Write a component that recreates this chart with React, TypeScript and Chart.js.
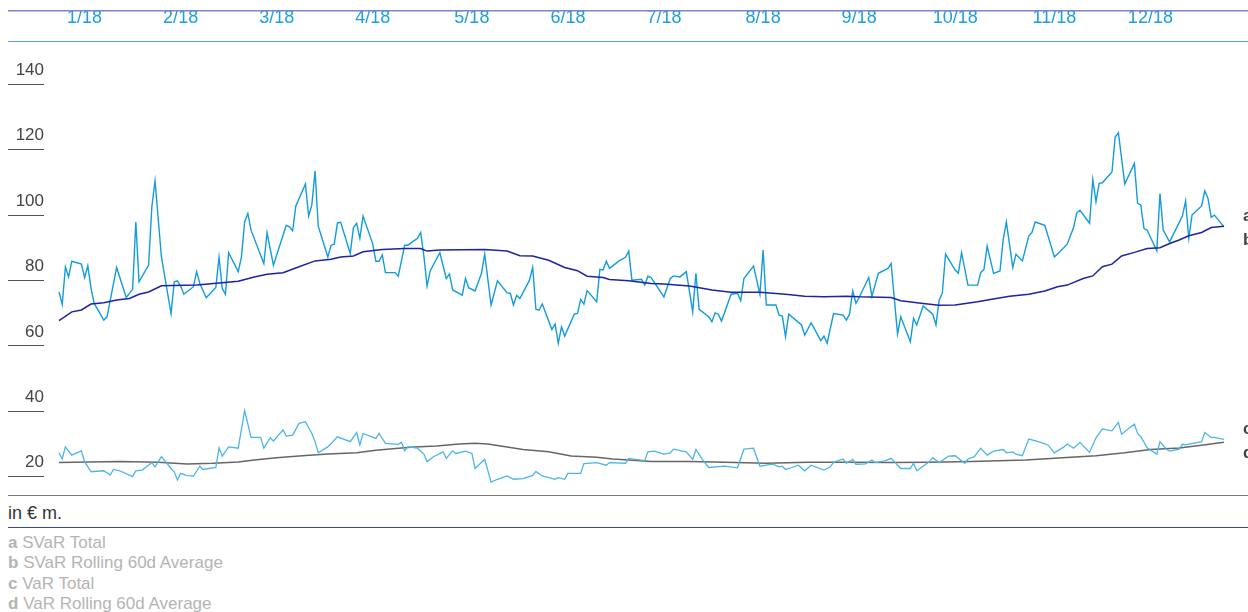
import React, { useEffect, useRef } from "react";
import { Chart, registerables } from "chart.js";

Chart.register(...registerables);

const FONT = '"Liberation Sans", Arial, Helvetica, sans-serif';

// x = calendar day of 2018 (0 = 1 Jan), y = € m.
const monthLabels = ["1/18", "2/18", "3/18", "4/18", "5/18", "6/18", "7/18", "8/18", "9/18", "10/18", "11/18", "12/18"];
const monthTickDays = [8, 38, 68, 98, 129, 159, 189, 220, 250, 280, 311, 341];
const yTickValues = [20, 40, 60, 80, 100, 120, 140];
const seriesLetters = ["a", "b", "c", "d"];
const legendTexts = ["SVaR Total", "SVaR Rolling 60d Average", "VaR Total", "VaR Rolling 60d Average"];

const svarTotal: [number, number][] = [
  [0, 76.5], [1, 72.7], [2, 84.2], [3, 81.1], [4, 85.9], [7, 85.0], [8, 80.9], [9, 84.5], [10, 77.6], [11, 73.0],
  [14, 67.9], [15, 68.9], [18, 84.0], [21, 74.8], [23, 77.3], [24, 97.9], [25, 79.6], [28, 84.7], [29, 102.5], [30, 110.5],
  [32, 87.2], [35, 69.9], [36, 79.6], [37, 79.9], [38, 78.3], [39, 75.8], [42, 78.1], [43, 82.7], [44, 79.1], [46, 74.7],
  [49, 77.9], [50, 87.1], [51, 77.6], [52, 75.8], [53, 88.5], [56, 82.7], [57, 87.2], [58, 97.9], [59, 100.5], [60, 95.4],
  [64, 85.2], [65, 94.6], [67, 84.7], [71, 96.9], [72, 96.4], [73, 95.2], [74, 102.8], [77, 109.5], [78, 99.7], [79, 103.1],
  [80, 113.5], [81, 96.6], [84, 87.2], [85, 90.8], [86, 91.1], [87, 97.6], [88, 97.8], [91, 88.3], [92, 96.2], [93, 97.5],
  [94, 92.9], [95, 99.7], [98, 91.3], [99, 85.9], [100, 85.9], [101, 87.8], [102, 82.4], [105, 82.4], [106, 81.3], [108, 90.8],
  [109, 90.8], [112, 92.9], [113, 94.7], [114, 87.5], [115, 78.3], [116, 83.0], [119, 88.5], [121, 80.6], [122, 82.0], [123, 77.1],
  [126, 75.5], [127, 80.6], [128, 77.8], [130, 76.8], [132, 82.2], [133, 88.1], [135, 72.5], [137, 79.9], [140, 76.2], [141, 76.1],
  [142, 72.5], [143, 75.5], [144, 74.5], [147, 80.1], [148, 84.0], [149, 71.2], [150, 70.9], [151, 72.8], [154, 65.0], [155, 66.7],
  [156, 60.8], [157, 65.8], [158, 63.0], [161, 69.7], [162, 69.9], [163, 74.2], [164, 72.8], [165, 76.9], [168, 73.5], [169, 83.4],
  [170, 83.2], [171, 85.9], [172, 83.7], [175, 86.0], [177, 87.1], [178, 89.0], [179, 80.1], [182, 80.4], [183, 78.6], [184, 81.3],
  [185, 80.9], [189, 75.0], [191, 80.6], [192, 81.4], [194, 81.1], [196, 82.7], [198, 70.4], [199, 82.2], [200, 71.2], [203, 68.9],
  [204, 67.4], [205, 70.1], [206, 69.7], [207, 67.6], [210, 75.8], [212, 76.1], [213, 73.8], [214, 80.6], [217, 84.4], [219, 75.8],
  [220, 89.3], [221, 72.5], [224, 72.5], [225, 69.4], [226, 69.1], [227, 62.8], [228, 69.7], [232, 66.4], [233, 63.3], [235, 67.1],
  [238, 61.6], [239, 63.0], [240, 60.8], [242, 69.9], [245, 69.4], [246, 67.9], [247, 69.7], [248, 76.8], [249, 73.0], [250, 74.8],
  [253, 80.9], [254, 75.2], [256, 82.2], [259, 83.7], [260, 85.2], [262, 63.6], [263, 68.9], [266, 61.3], [267, 68.4], [268, 66.4],
  [270, 72.2], [273, 69.7], [274, 66.4], [275, 74.0], [276, 76.2], [277, 88.1], [280, 83.2], [281, 82.2], [282, 88.5], [284, 78.6],
  [287, 78.6], [288, 82.4], [289, 83.4], [290, 90.5], [292, 82.2], [294, 82.9], [295, 92.4], [296, 97.9], [298, 84.0], [299, 88.0],
  [301, 86.0], [303, 93.6], [304, 94.7], [305, 97.9], [308, 96.9], [310, 90.5], [311, 87.2], [313, 89.1], [315, 91.1], [317, 96.2],
  [318, 100.7], [319, 101.5], [322, 97.5], [323, 110.9], [324, 104.1], [325, 109.7], [326, 109.9], [329, 113.2], [330, 123.9], [331, 125.2],
  [333, 109.5], [336, 115.8], [337, 103.6], [338, 103.1], [339, 95.9], [340, 95.4], [343, 89.1], [344, 106.6], [345, 95.4], [347, 91.8],
  [351, 99.7], [352, 104.3], [353, 92.9], [354, 100.0], [357, 102.8], [358, 107.4], [359, 105.1], [360, 99.3], [361, 100.0], [364, 96.4],
];

const svarAvg: [number, number][] = [
  [0, 67.7], [4, 70.4], [7, 71.0], [10, 72.8], [14, 73.2], [18, 74.0], [22, 74.5], [25, 75.8], [28, 76.5], [32, 78.4],
  [43, 78.6], [51, 79.3], [56, 79.8], [61, 81.1], [65, 81.9], [70, 82.4], [75, 84.2], [80, 86.0], [85, 86.5], [88, 87.2],
  [92, 87.5], [95, 88.8], [101, 89.5], [108, 89.8], [113, 89.8], [115, 89.0], [119, 89.3], [133, 89.5], [140, 89.0], [144, 87.6],
  [148, 87.5], [153, 86.2], [158, 84.0], [162, 83.0], [165, 81.3], [170, 80.9], [172, 80.3], [178, 79.9], [185, 79.1], [189, 78.9],
  [197, 78.3], [204, 77.1], [210, 76.4], [219, 76.4], [227, 75.8], [233, 75.2], [239, 75.0], [246, 75.2], [250, 75.0], [260, 74.8],
  [263, 73.8], [270, 73.0], [275, 72.4], [280, 72.5], [287, 73.5], [291, 74.2], [297, 75.2], [303, 75.8], [308, 76.8], [312, 78.1],
  [315, 78.6], [320, 80.6], [323, 81.4], [326, 84.2], [329, 85.0], [332, 87.5], [336, 88.6], [340, 89.8], [344, 90.0], [347, 91.3],
  [350, 92.4], [353, 93.7], [357, 94.7], [360, 96.2], [364, 96.6],
];

const varTotal: [number, number][] = [
  [0, 27.3], [1, 25.4], [2, 29.1], [4, 26.6], [7, 27.9], [8, 24.6], [10, 21.5], [14, 21.8], [16, 20.5], [17, 22.2],
  [19, 21.8], [23, 20.0], [24, 21.8], [26, 22.0], [29, 24.3], [30, 23.0], [32, 26.1], [35, 22.5], [36, 21.5], [37, 19.0],
  [38, 21.0], [40, 20.3], [42, 20.2], [44, 23.2], [45, 22.2], [49, 22.8], [50, 28.8], [51, 26.3], [53, 29.1], [56, 28.7],
  [58, 40.2], [60, 32.0], [63, 32.0], [64, 28.7], [66, 31.9], [67, 30.9], [70, 34.3], [71, 32.4], [73, 32.7], [75, 36.3],
  [77, 36.8], [79, 33.2], [80, 30.7], [81, 27.3], [84, 29.1], [87, 32.2], [91, 30.7], [93, 33.5], [94, 29.7], [95, 33.2],
  [99, 31.7], [100, 33.2], [102, 30.2], [106, 29.9], [107, 30.5], [108, 27.9], [109, 29.1], [112, 28.7], [114, 26.9], [115, 24.6],
  [117, 26.1], [120, 27.6], [121, 25.6], [123, 27.9], [124, 27.1], [127, 27.8], [129, 27.1], [130, 22.5], [133, 25.3], [135, 18.3],
  [137, 19.2], [140, 20.2], [142, 19.2], [145, 19.4], [148, 20.4], [149, 21.6], [151, 20.2], [155, 19.2], [156, 19.7], [158, 19.2],
  [159, 21.0], [163, 21.0], [164, 24.0], [168, 24.3], [171, 23.5], [172, 24.3], [177, 24.1], [178, 25.6], [183, 24.9], [184, 27.6],
  [186, 27.8], [189, 26.9], [191, 27.3], [192, 28.4], [196, 27.6], [198, 25.3], [199, 28.3], [201, 25.3], [203, 22.8], [208, 23.2],
  [212, 22.7], [214, 28.4], [217, 28.7], [219, 23.2], [221, 23.5], [223, 23.8], [225, 23.0], [226, 23.2], [227, 22.2], [229, 22.8],
  [231, 23.5], [233, 21.8], [235, 23.5], [239, 22.0], [241, 23.0], [242, 24.4], [245, 25.4], [246, 24.1], [248, 25.3], [249, 23.8],
  [252, 23.9], [254, 25.1], [255, 24.3], [258, 24.8], [260, 25.6], [263, 22.5], [266, 22.5], [267, 24.1], [268, 21.8], [272, 24.6],
  [273, 25.8], [275, 24.3], [278, 26.3], [280, 26.4], [283, 24.1], [284, 25.4], [286, 26.1], [288, 28.7], [290, 26.6], [292, 27.8],
  [295, 28.3], [296, 27.3], [298, 27.6], [299, 26.9], [301, 26.4], [303, 31.5], [306, 30.7], [309, 29.7], [311, 27.3], [314, 29.1],
  [315, 30.0], [317, 28.7], [319, 30.5], [322, 27.4], [324, 31.9], [326, 34.6], [329, 34.0], [331, 36.6], [332, 33.0], [336, 36.1],
  [337, 33.2], [338, 32.2], [340, 28.8], [343, 26.9], [344, 30.7], [346, 28.4], [347, 27.8], [350, 28.4], [351, 29.9], [352, 29.7],
  [357, 30.7], [358, 33.5], [360, 32.0], [361, 32.0], [364, 31.4],
];

const varAvg: [number, number][] = [
  [0, 24.3], [19, 24.6], [31, 24.4], [40, 23.9], [48, 24.1], [56, 24.5], [61, 25.1], [68, 25.8], [76, 26.4], [84, 26.9],
  [93, 27.3], [99, 28.1], [106, 28.7], [111, 29.1], [118, 29.4], [125, 30.0], [130, 30.2], [134, 30.0], [138, 29.4], [145, 28.3],
  [153, 27.6], [160, 26.3], [168, 25.9], [173, 25.4], [178, 25.1], [185, 24.6], [197, 24.6], [208, 24.4], [221, 24.1], [234, 24.4],
  [247, 24.4], [260, 24.3], [272, 24.4], [285, 24.6], [302, 25.1], [311, 25.6], [324, 26.4], [333, 27.3], [341, 28.3], [350, 28.8],
  [357, 29.6], [364, 30.5],
];

const X_MIN = -4.69;
const X_MAX = 364;
const Y_MIN = 15;
const Y_MAX = 145;

const toXY = (arr: [number, number][]) => arr.map(([x, y]) => ({ x, y }));

const decorPlugin = {
  id: "decor",
  afterDraw(chart: any) {
    const ctx = chart.ctx as CanvasRenderingContext2D;
    const w = chart.width;
    ctx.save();
    const rule = (y: number, color: string, lw: number) => {
      ctx.beginPath();
      ctx.strokeStyle = color;
      ctx.lineWidth = lw;
      ctx.moveTo(0, y);
      ctx.lineTo(w, y);
      ctx.stroke();
    };
    rule(2.7, "#7c84cf", 1.5);
    rule(33.5, "#4ea8e0", 1.2);
    rule(487.5, "#7a7a7a", 1);
    ctx.font = `bold 17px ${FONT}`;
    ctx.fillStyle = "#444444";
    ctx.textBaseline = "middle";
    ctx.textAlign = "left";
    const letterY = [208, 232, 421, 445];
    seriesLetters.forEach((l, i) => ctx.fillText(l, 1235, letterY[i]));
    ctx.restore();
  },
};

export default function App() {
  const ref = useRef<HTMLCanvasElement>(null);

  useEffect(() => {
    document.documentElement.style.overflow = "hidden";
    const line = (data: [number, number][], color: string, width: number, order: number) => ({
      data: toXY(data),
      borderColor: color,
      backgroundColor: color,
      borderWidth: width,
      pointRadius: 0,
      tension: 0,
      fill: false,
      order,
    });
    const chart = new Chart(ref.current as HTMLCanvasElement, {
      type: "line",
      data: {
        datasets: [
          { label: "SVaR Total", ...line(svarTotal, "#129cdb", 1.4, 2) },
          { label: "SVaR Rolling 60d Average", ...line(svarAvg, "#1c24a4", 1.5, 1) },
          { label: "VaR Total", ...line(varTotal, "#4cb5e8", 1.3, 3) },
          { label: "VaR Rolling 60d Average", ...line(varAvg, "#666666", 1.5, 4) },
        ],
      },
      options: {
        animation: false,
        responsive: false,
        devicePixelRatio: 1,
        layout: { padding: { left: 0, right: 24, top: 0, bottom: 10 } },
        plugins: { legend: { display: false }, tooltip: { enabled: false } },
        scales: {
          x: { type: "linear", min: X_MIN, max: X_MAX, display: false },
          x2: {
            type: "linear",
            position: "top",
            min: X_MIN,
            max: X_MAX,
            afterFit: (s: any) => {
              s.height = 60;
            },
            afterBuildTicks: (s: any) => {
              s.ticks = monthTickDays.map((v) => ({ value: v }));
            },
            grid: { display: false },
            border: { display: false },
            ticks: {
              color: "#1b9fe0",
              font: { family: FONT, size: 18 },
              padding: 31,
              autoSkip: false,
              maxRotation: 0,
              callback: (_v: any, i: number) => monthLabels[i],
            },
          },
          y: {
            type: "linear",
            min: Y_MIN,
            max: Y_MAX,
            afterFit: (s: any) => {
              s.width = 36;
            },
            afterBuildTicks: (s: any) => {
              s.ticks = yTickValues.map((v) => ({ value: v }));
            },
            grid: { drawOnChartArea: false, drawTicks: true, tickLength: 36, color: "#555555", lineWidth: 1 },
            border: { display: false },
            ticks: {
              color: "#444444",
              font: { family: FONT, size: 17 },
              padding: -36,
              labelOffset: -14,
              crossAlign: "near",
            },
          },
        },
      },
      plugins: [decorPlugin],
    } as any);
    return () => chart.destroy();
  }, []);

  return (
    <div style={{ position: "fixed", left: 0, top: 0, width: 1248, height: 612, overflow: "hidden", background: "#ffffff" }}>
      <div style={{ position: "absolute", left: 8, top: 8, width: 1240, height: 604, fontFamily: FONT }}>
        <canvas ref={ref} width={1240} height={495} style={{ position: "absolute", left: 0, top: 0, width: 1240, height: 495 }} />
        <div style={{ position: "absolute", left: 0, top: 495, fontSize: 18, lineHeight: "20px", color: "#333333" }}>in € m.</div>
        <div style={{ position: "absolute", left: 0, top: 519, width: 1240, height: 1, background: "#3046b0" }} />
        <div style={{ position: "absolute", left: 0, top: 525, fontSize: 17, lineHeight: "20.3px", color: "#b4b4b4", whiteSpace: "nowrap" }}>
          {seriesLetters.map((l, i) => (
            <div key={l}>
              <b>{l}</b> {legendTexts[i]}
            </div>
          ))}
        </div>
      </div>
    </div>
  );
}
